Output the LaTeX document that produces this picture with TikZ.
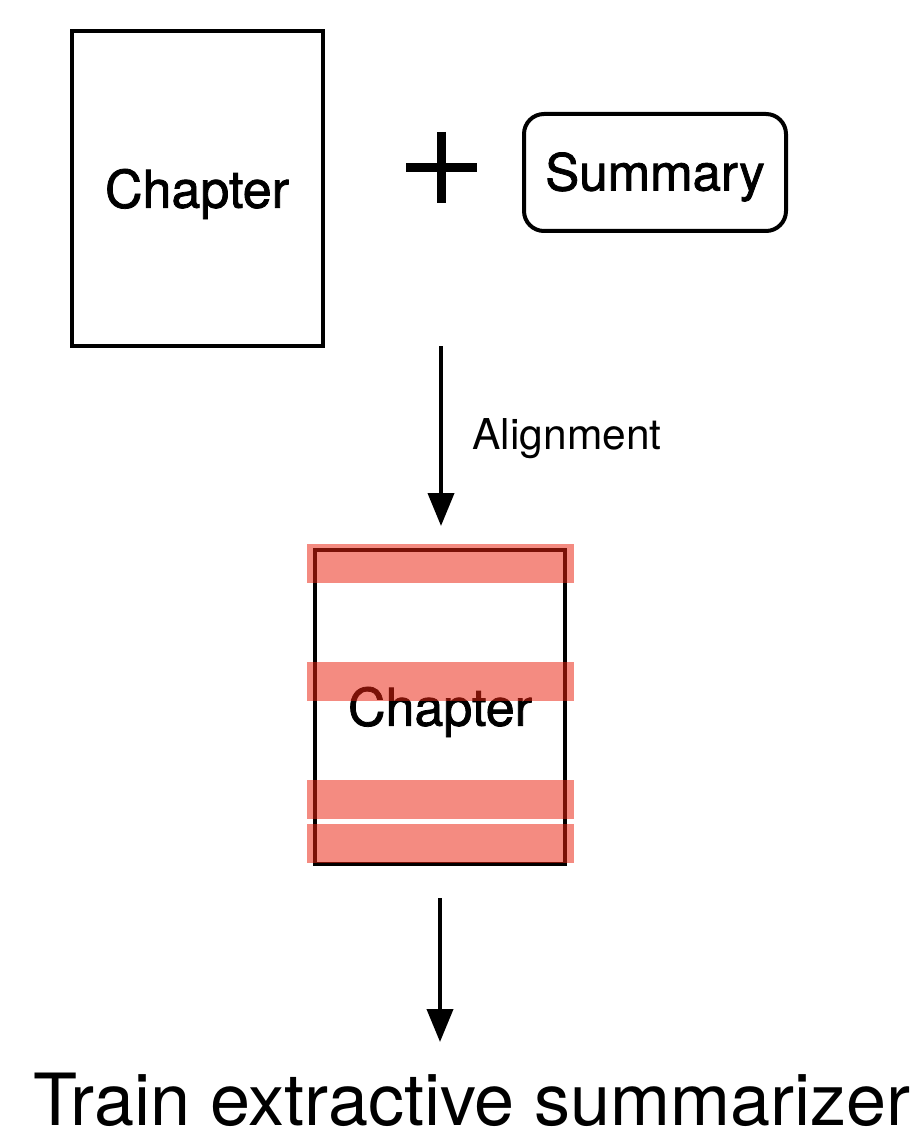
\documentclass[tikz,border=0pt]{standalone}
\usepackage{fontspec}
\setmainfont{TeX Gyre Heros}
\newfontfamily\medfont[FakeBold=1.5]{TeX Gyre Heros}
\usetikzlibrary{arrows.meta}
\definecolor{barred}{RGB}{234,34,15}
\tikzset{
  box/.style={draw=black, line width=4pt, inner sep=0pt, outer sep=0pt},
  bigtext/.style={font=\medfont\fontsize{52}{60}\selectfont},
  flow/.style={line width=4pt, -{Triangle[length=33pt,width=26pt]}},
  hl/.style={fill=barred, fill opacity=0.52, draw=none},
}
\begin{document}
\begin{tikzpicture}[x=1pt,y=-1pt]
\useasboundingbox (0,0) rectangle (912,1131);
\fill[white] (0,0) rectangle (912,1131);
% top row
\node[box, minimum width=251pt, minimum height=314pt] (chap1) at (197,188.5) {};
\node[bigtext] (chap1t) at (197,194) {Chapter};
\coordinate (plusc) at (441.5,167.5);
\draw[line width=9pt] ([xshift=-35.5pt]plusc) -- ([xshift=35.5pt]plusc);
\draw[line width=9pt] ([yshift=35.5pt]plusc) -- ([yshift=-35.5pt]plusc);
\node[box, rounded corners=20pt, minimum width=262pt, minimum height=117pt] (summ) at (655,172.5) {};
\node[font=\medfont\fontsize{51}{60}\selectfont] (summt) at (655,177) {Summary};
% alignment arrow
\coordinate (a1s) at (441,346);
\coordinate (a1e) at (441,526);
\draw[flow] (a1s) -- (a1e);
\node[anchor=west, font=\fontsize{42.5}{50}\selectfont] (align) at (469,439) {Alignment};
% aligned chapter
\node[box, minimum width=250pt, minimum height=314pt] (chap2) at (440,707) {};
\node[bigtext] (chap2t) at (440,712) {Chapter};
\fill[hl] (306.5,544) rectangle (573.5,583);
\fill[hl] (306.5,662) rectangle (573.5,701);
\fill[hl] (306.5,780) rectangle (573.5,819);
\fill[hl] (306.5,824) rectangle (573.5,863);
% train arrow
\coordinate (a2s) at (440,898);
\coordinate (a2e) at (440,1042);
\draw[flow] (a2s) -- (a2e);
\node[anchor=base west, inner sep=0pt, font=\fontsize{72}{80}\selectfont] (train) at (33,1125) {Train extractive summarizer};
\end{tikzpicture}
\end{document}
